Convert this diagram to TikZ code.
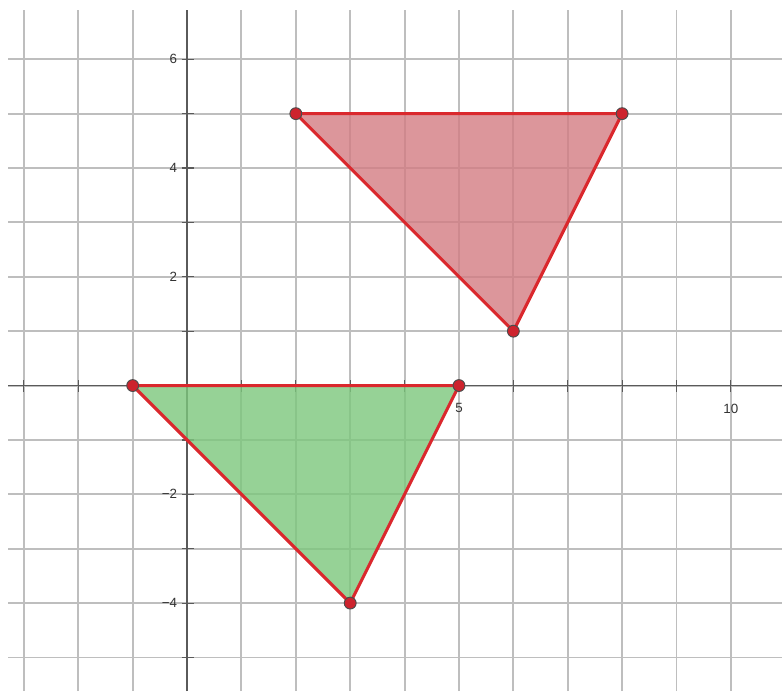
\documentclass[tikz,border=0pt]{standalone}
\usepackage{fontspec}
\setsansfont{Liberation Sans}
\usetikzlibrary{positioning}
\definecolor{gridgray}{RGB}{190,190,190}
\definecolor{axisgray}{RGB}{90,90,90}
\definecolor{edgered}{RGB}{218,40,45}
\definecolor{redfill}{RGB}{211,124,130}
\definecolor{greenfill}{RGB}{124,199,124}
\definecolor{dotred}{RGB}{205,35,45}
\tikzset{
    gridline/.style={draw=gridgray, line width=1pt},
    axisline/.style={draw=axisgray, line width=0.8pt},
    tickmark/.style={draw=axisgray, line width=0.6pt},
    ticklabel/.style={font=\sffamily\fontsize{7}{8}\selectfont, text=black!80, inner sep=1pt},
    triangle/.style={draw=edgered, line width=1.6pt, line join=round, fill opacity=0.8},
    vertex/.style={circle, draw=black!70, fill=dotred, line width=0.5pt, inner sep=0pt, minimum size=6.2pt}
}

\begin{document}
\begin{tikzpicture}
\useasboundingbox (-3.44,-5.76) rectangle (10.94,7.09);
% grid and axes
\foreach \x in {-3,...,10} \draw[gridline] (\x,-5.62) -- (\x,6.9);
\foreach \y in {-5,...,6} \draw[gridline] (-3.29,\y) -- (10.94,\y);
\draw[axisline] (-3.29,0) -- (10.94,0);
\draw[axisline] (0,-5.62) -- (0,6.9);
\foreach \x in {-3,...,10} \draw[tickmark] (\x,0.1) -- (\x,-0.12);
\foreach \y in {-5,...,6} \draw[tickmark] (-0.1,\y) -- (0.12,\y);

\foreach \y/\t in {6/6, 4/4, 2/2, -2/−2, -4/−4}
    \node[ticklabel, anchor=east] (ylab\y) at (-0.14,\y) {\t};
\foreach \x in {5, 10}
    \node[ticklabel] (xlab\x) at (\x,-0.42) {\x};

\coordinate (g1) at (-1,0);
\coordinate (g2) at (5,0);
\coordinate (g3) at (3,-4);
\coordinate (r1) at (2,5);
\coordinate (r2) at (8,5);
\coordinate (r3) at (6,1);

\filldraw[triangle, fill=greenfill] (g1) -- (g2) -- (g3) -- cycle;
\filldraw[triangle, fill=redfill] (r1) -- (r2) -- (r3) -- cycle;

\foreach \p in {g1, g2, g3, r1, r2, r3}
    \node[vertex] (\p dot) at (\p) {};
\end{tikzpicture}
\end{document}
